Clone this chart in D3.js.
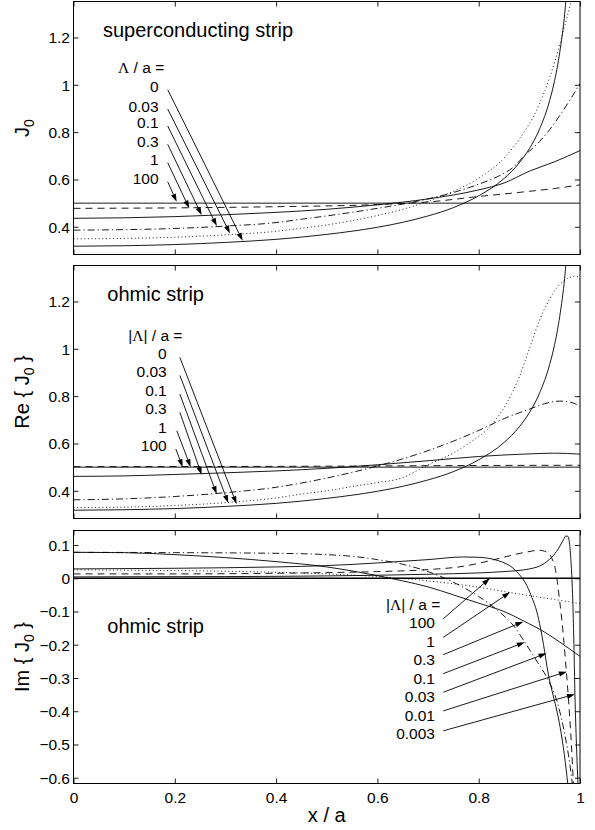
<!DOCTYPE html>
<html><head><meta charset="utf-8">
<script src="https://cdn.jsdelivr.net/npm/d3@7/dist/d3.min.js"></script>
<style>
body{margin:0;background:#fff}
text{font-family:"Liberation Sans",Arial,Helvetica,sans-serif;fill:#000}
</style></head>
<body><svg id="c" width="595" height="830"></svg>
<script>
// ---------------- DATA ----------------
// x / a positions and tick labels
const xTicks = [0, 0.2, 0.4, 0.6, 0.8, 1];
const xTickLabels = ["0", "0.2", "0.4", "0.6", "0.8", "1"];
const reTicks = [0.4, 0.6, 0.8, 1, 1.2];
const reTickLabels = ["0.4", "0.6", "0.8", "1", "1.2"];
const imTicks = [0.1, 0, -0.1, -0.2, -0.3, -0.4, -0.5, -0.6];
const imTickLabels = ["0.1", "0", "\u22120.1", "\u22120.2", "\u22120.3", "\u22120.4", "\u22120.5", "\u22120.6"];

// Panel 1: superconducting strip, J0 vs x/a  ([x/a, J0])
const sc_L0 = [[0,0.318],[0.1,0.320],[0.2,0.325],[0.3,0.334],[0.4,0.347],[0.5,0.368],[0.6,0.398],[0.65,0.419],[0.7,0.446],[0.75,0.481],[0.8,0.531],[0.85,0.604],[0.88,0.670],[0.9,0.730],[0.92,0.812],[0.94,0.933],[0.95,1.019],[0.96,1.137],[0.97,1.306],[0.975,1.434]];
const sc_L003 = [[0,0.349],[0.1,0.351],[0.2,0.356],[0.3,0.366],[0.4,0.381],[0.45,0.394],[0.5,0.408],[0.55,0.426],[0.6,0.448],[0.65,0.474],[0.7,0.508],[0.75,0.55],[0.8,0.605],[0.85,0.69],[0.88,0.77],[0.9,0.835],[0.92,0.92],[0.94,1.03],[0.96,1.17],[0.975,1.29],[0.985,1.37]];
const sc_L01 = [[0,0.386],[0.1,0.388],[0.2,0.393],[0.3,0.403],[0.4,0.418],[0.45,0.432],[0.5,0.446],[0.6,0.478],[0.65,0.496],[0.7,0.518],[0.75,0.545],[0.8,0.58],[0.84,0.615],[0.87,0.655],[0.89,0.7],[0.92,0.76],[0.94,0.81],[0.96,0.87],[0.98,0.935],[1.0,1.005]];
const sc_L03 = [[0,0.436],[0.1,0.438],[0.2,0.443],[0.3,0.451],[0.4,0.461],[0.5,0.474],[0.6,0.493],[0.7,0.518],[0.8,0.556],[0.85,0.585],[0.9,0.635],[0.95,0.675],[1.0,0.722]];
const sc_L1 = [[0,0.478],[0.2,0.48],[0.4,0.485],[0.6,0.494],[0.7,0.505],[0.8,0.528],[0.9,0.55],[0.95,0.562],[1.0,0.577]];
const sc_L100 = [[0,0.5],[1,0.5]];

// Panel 2: ohmic strip, Re{J0}
const re_L0 = [[0,0.318],[0.1,0.320],[0.2,0.325],[0.3,0.334],[0.4,0.347],[0.5,0.368],[0.6,0.398],[0.65,0.419],[0.7,0.446],[0.75,0.481],[0.8,0.531],[0.85,0.604],[0.88,0.670],[0.9,0.730],[0.92,0.812],[0.94,0.933],[0.95,1.019],[0.96,1.137],[0.97,1.306],[0.975,1.434]];
const re_L003 = [[0,0.329],[0.1,0.331],[0.2,0.338],[0.3,0.35],[0.4,0.37],[0.45,0.386],[0.5,0.4],[0.55,0.418],[0.6,0.435],[0.645,0.452],[0.7,0.51],[0.75,0.56],[0.78,0.6],[0.83,0.69],[0.855,0.77],[0.88,0.88],[0.9,1.0],[0.92,1.12],[0.94,1.21],[0.955,1.26],[0.97,1.29],[0.985,1.305],[0.993,1.307],[1.0,1.293]];
const re_L01 = [[0,0.362],[0.1,0.366],[0.2,0.376],[0.3,0.392],[0.4,0.415],[0.45,0.433],[0.5,0.454],[0.6,0.505],[0.65,0.535],[0.7,0.57],[0.75,0.61],[0.8,0.655],[0.85,0.705],[0.9,0.745],[0.93,0.768],[0.96,0.779],[0.98,0.775],[1.0,0.757]];
const re_L03 = [[0,0.461],[0.1,0.463],[0.2,0.469],[0.3,0.476],[0.4,0.484],[0.5,0.495],[0.6,0.51],[0.7,0.527],[0.8,0.545],[0.9,0.556],[0.95,0.559],[1.0,0.555]];
const re_L1 = [[0,0.502],[0.5,0.504],[0.8,0.507],[1.0,0.508]];
const re_L100 = [[0,0.5],[1,0.5]];

// Panel 3: ohmic strip, Im{J0}
const im_L100 = [[0,0],[1,0]];
const im_L1 = [[0,0.025],[0.2,0.023],[0.4,0.018],[0.5,0.013],[0.6,0.005],[0.7,-0.008],[0.8,-0.027],[0.862,-0.043],[0.9,-0.052],[0.95,-0.064],[1.0,-0.076]];
const im_L03 = [[0,0.078],[0.1,0.077],[0.2,0.071],[0.3,0.062],[0.4,0.05],[0.5,0.034],[0.55,0.022],[0.6,0.008],[0.65,-0.008],[0.7,-0.026],[0.75,-0.05],[0.8,-0.075],[0.85,-0.1],[0.888,-0.128],[0.93,-0.162],[0.96,-0.192],[1.0,-0.235]];
const im_L01 = [[0,0.078],[0.2,0.077],[0.4,0.075],[0.5,0.071],[0.55,0.066],[0.6,0.056],[0.65,0.042],[0.7,0.02],[0.75,-0.012],[0.8,-0.055],[0.84,-0.1],[0.87,-0.145],[0.89,-0.19],[0.915,-0.25],[0.935,-0.3],[0.957,-0.383],[0.97,-0.47],[0.98,-0.56],[0.985,-0.62]];
const im_L003 = [[0,0.028],[0.2,0.03],[0.4,0.034],[0.5,0.038],[0.6,0.046],[0.7,0.056],[0.77,0.064],[0.8,0.063],[0.836,0.054],[0.868,0.03],[0.882,0.008],[0.895,-0.022],[0.905,-0.058],[0.915,-0.102],[0.922,-0.15],[0.928,-0.2],[0.937,-0.285],[0.945,-0.34],[0.953,-0.39],[0.961,-0.45],[0.969,-0.53],[0.976,-0.62]];
const im_L001 = [[0,0.013],[0.2,0.013],[0.4,0.015],[0.5,0.017],[0.6,0.02],[0.7,0.026],[0.77,0.036],[0.836,0.058],[0.888,0.077],[0.92,0.084],[0.935,0.078],[0.945,0.058],[0.951,0.03],[0.96,-0.07],[0.967,-0.17],[0.973,-0.28],[0.978,-0.38],[0.983,-0.5],[0.987,-0.62]];
const im_L0003 = [[0,0.004],[0.3,0.005],[0.5,0.007],[0.6,0.009],[0.7,0.012],[0.8,0.016],[0.85,0.02],[0.9,0.028],[0.93,0.045],[0.957,0.088],[0.966,0.112],[0.972,0.127],[0.976,0.126],[0.98,0.095],[0.983,0.03],[0.986,-0.08],[0.988,-0.2],[0.99,-0.35],[0.993,-0.5],[0.996,-0.62]];

// Legend texts, label anchors (data units) and arrow tips
const scLabels = ["0", "0.03", "0.1", "0.3", "1", "100"];
const scLabelY = [0.969, 0.887, 0.8155, 0.738, 0.660, 0.580];
const scTailX = [0.186, 0.186, 0.186, 0.186, 0.186, 0.186];
const scTipX = [0.334, 0.309, 0.283, 0.253, 0.2286, 0.2037];
const scTipY = [0.341, 0.372, 0.403, 0.449, 0.478, 0.5056];

const reLabels = ["0", "0.03", "0.1", "0.3", "1", "100"];
const reLabelY = [0.956, 0.880, 0.801, 0.724, 0.646, 0.569];
const reTailX = [0.21, 0.21, 0.21, 0.21, 0.204, 0.202];
const reTipX = [0.322, 0.3056, 0.2827, 0.253, 0.2314, 0.2156];
const reTipY = [0.344, 0.348, 0.386, 0.4675, 0.5, 0.5];

const imLabels = ["100", "1", "0.3", "0.1", "0.03", "0.01", "0.003"];
const imLabelY = [-0.150, -0.2055, -0.261, -0.317, -0.372, -0.428, -0.484];
const imTailX = [0.73, 0.73, 0.73, 0.73, 0.73, 0.73, 0.73];
const imTailY = [-0.122, -0.178, -0.230, -0.287, -0.343, -0.399, -0.459];
const imTipX = [0.822, 0.862, 0.888, 0.891, 0.934, 0.974, 0.99];
const imTipY = [0, -0.042, -0.1306, -0.1925, -0.2256, -0.281, -0.349];

// ---------------- DRAWING ----------------
const svg = d3.select("#c");
const L = 73.5, R = 580;
const x = d3.scaleLinear().domain([0, 1]).range([L, R]);
const DASH = {solid: null, dashed: "7,5", dotted: "1,2.6", dashdot: "7,3,1.2,3"};

const panels = [
  {top: 1.5, bottom: 254.5, domain: [0.283, 1.352], ticks: reTicks, tickLabels: reTickLabels,
   series: [[sc_L100,"solid"],[sc_L1,"dashed"],[sc_L03,"solid"],[sc_L01,"dashdot"],[sc_L003,"dotted"],[sc_L0,"solid"]],
   xlabels: false},
  {top: 265.5, bottom: 518.5, domain: [0.283, 1.352], ticks: reTicks, tickLabels: reTickLabels,
   series: [[re_L100,"solid"],[re_L1,"dashed"],[re_L03,"solid"],[re_L01,"dashdot"],[re_L003,"dotted"],[re_L0,"solid"]],
   xlabels: false},
  {top: 530.5, bottom: 783.5, domain: [-0.6174, 0.1436], ticks: imTicks, tickLabels: imTickLabels,
   series: [[im_L100,"zero"],[im_L1,"dotted"],[im_L03,"solid"],[im_L01,"dashdot"],[im_L003,"solid"],[im_L001,"dashed"],[im_L0003,"solid"]],
   xlabels: true}
];

const defs = svg.append("defs");

function arrow(g, x1, y1, x2, y2) {
  const dx = x2 - x1, dy = y2 - y1, len = Math.hypot(dx, dy);
  const ux = dx / len, uy = dy / len, hl = 8, hw = 2.6;
  const bx = x2 - ux * hl, by = y2 - uy * hl;
  g.append("line").attr("x1", x1).attr("y1", y1).attr("x2", bx).attr("y2", by)
    .attr("stroke", "#000").attr("stroke-width", 0.9);
  g.append("path")
    .attr("d", `M${x2},${y2}L${bx - uy * hw},${by + ux * hw}L${bx + uy * hw},${by - ux * hw}Z`)
    .attr("fill", "#000");
}

panels.forEach((p, i) => {
  const y = d3.scaleLinear().domain(p.domain).range([p.bottom, p.top]);
  p.y = y;
  const g = svg.append("g");
  defs.append("clipPath").attr("id", "clip" + i).append("rect")
    .attr("x", L).attr("y", p.top).attr("width", R - L).attr("height", p.bottom - p.top);

  const line = d3.line().x(d => x(d[0])).y(d => y(d[1])).curve(d3.curveMonotoneX);
  const cg = g.append("g").attr("clip-path", `url(#clip${i})`);
  p.series.forEach(([data, style]) => {
    cg.append("path").attr("d", line(data)).attr("fill", "none").attr("stroke", "#000")
      .attr("stroke-width", style === "zero" ? 1.7 : 0.9)
      .attr("stroke-dasharray", style === "zero" ? null : DASH[style]);
  });

  // axes (ticks inside, on all four sides)
  const tl = 5;
  const ax = g.append("g");
  ax.append("g").attr("transform", `translate(0,${p.bottom})`)
    .call(d3.axisBottom(x).tickValues(xTicks).tickSizeInner(-tl).tickSizeOuter(0)
      .tickFormat((d, k) => p.xlabels ? xTickLabels[k] : ""));
  ax.append("g").attr("transform", `translate(0,${p.top})`)
    .call(d3.axisTop(x).tickValues(xTicks).tickSizeInner(-tl).tickSizeOuter(0).tickFormat(""));
  ax.append("g").attr("transform", `translate(${L},0)`)
    .call(d3.axisLeft(y).tickValues(p.ticks).tickSizeInner(-tl).tickSizeOuter(0)
      .tickFormat((d, k) => p.tickLabels[k]));
  ax.append("g").attr("transform", `translate(${R},0)`)
    .call(d3.axisRight(y).tickValues(p.ticks).tickSizeInner(-tl).tickSizeOuter(0).tickFormat(""));
  ax.selectAll(".domain").remove();
  ax.selectAll(".tick line").attr("stroke", "#000").attr("stroke-width", 0.9);
  ax.selectAll(".tick text").attr("font-size", 15.5).attr("fill", "#000")
    .attr("font-family", '"Liberation Sans",Arial,sans-serif');
  // reposition tick labels
  ax.selectAll("g").filter(function(){return false;});
  g.append("rect").attr("x", L).attr("y", p.top).attr("width", R - L).attr("height", p.bottom - p.top)
    .attr("fill", "none").attr("stroke", "#000").attr("stroke-width", 1);
  p.g = g;
});

// tweak tick label offsets
svg.selectAll("g").each(function(){});
d3.selectAll(".tick text").each(function() {
  const t = d3.select(this);
  if (t.attr("x") !== null && +t.attr("x") < 0) { // left axis labels
    t.attr("x", -3.5).attr("dy", "0.35em");
  }
});
// bottom x tick labels
d3.selectAll(".tick text").filter(function(){ return d3.select(this).attr("y") !== null && +d3.select(this).attr("y") > 0 && d3.select(this).text() !== ""; })
  .attr("y", 19).attr("dy", 0);

// ---------- annotations ----------
function panelText(p, xv, yv, str, opts) {
  return p.g.append("text").attr("x", x(xv)).attr("y", p.y(yv))
    .attr("font-size", opts.size).attr("text-anchor", opts.anchor || "start").text(str);
}
function lambdaHeader(p, xv, yv, abs) {
  const t = p.g.append("text").attr("x", x(xv)).attr("y", p.y(yv)).attr("font-size", 15.5);
  if (abs) t.append("tspan").text("|");
  t.append("tspan").attr("font-family", '"Liberation Serif","Times New Roman",serif').text("\u039B");
  if (abs) t.append("tspan").text("|");
  t.append("tspan").text(" / a =");
}

// panel 1
const P1 = panels[0], P2 = panels[1], P3 = panels[2];
panelText(P1, 0.0582, 1.2, "superconducting strip", {size: 20});
lambdaHeader(P1, 0.088, 1.0505, false);
scLabels.forEach((s, k) => {
  panelText(P1, 0.168, scLabelY[k], s, {size: 15.5, anchor: "end"});
  arrow(P1.g, x(scTailX[k]), P1.y(scLabelY[k]) - 2.5, x(scTipX[k]), P1.y(scTipY[k]));
});

// panel 2
panelText(P2, 0.0667, 1.2, "ohmic strip", {size: 20});
lambdaHeader(P2, 0.108, 1.033, true);
reLabels.forEach((s, k) => {
  panelText(P2, 0.184, reLabelY[k], s, {size: 15.5, anchor: "end"});
  arrow(P2.g, x(reTailX[k]), P2.y(reLabelY[k]) - 1.8, x(reTipX[k]), P2.y(reTipY[k]));
});

// panel 3
panelText(P3, 0.0667, -0.166, "ohmic strip", {size: 20});
lambdaHeader(P3, 0.617, -0.0945, true);
imLabels.forEach((s, k) => {
  panelText(P3, 0.7137, imLabelY[k], s, {size: 15.5, anchor: "end"});
  arrow(P3.g, x(imTailX[k]), P3.y(imTailY[k]), x(imTipX[k]), P3.y(imTipY[k]));
});

// y-axis titles
function yTitle(p, parts) {
  const cy = (p.top + p.bottom) / 2;
  const t = svg.append("text").attr("transform", `translate(29,${cy}) rotate(-90)`)
    .attr("text-anchor", "middle").attr("font-size", 20);
  parts.forEach(([s, sub]) => {
    const ts = t.append("tspan").text(s);
    if (sub) ts.attr("font-size", 14).attr("dy", 5);
    else if (t.selectAll("tspan").size() > 1) ts.attr("dy", -5);
  });
}
yTitle(P1, [["J", false], ["0", true]]);
yTitle(P2, [["Re { J", false], ["0", true], [" }", false]]);
yTitle(P3, [["Im { J", false], ["0", true], [" }", false]]);

// x-axis title
svg.append("text").attr("x", (L + R) / 2).attr("y", 822).attr("text-anchor", "middle")
  .attr("font-size", 20).text("x / a");
</script>
</body></html>
